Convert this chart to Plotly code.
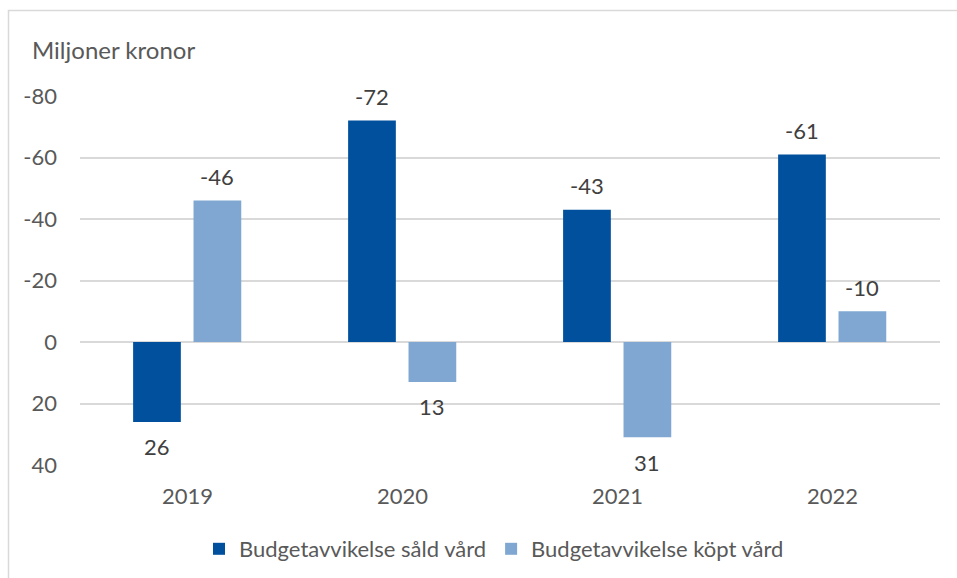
import plotly.graph_objects as go

years = ["2019", "2020", "2021", "2022"]
sald = [26, -72, -43, -61]
kopt = [-46, 13, 31, -10]
y_ticks = [-80, -60, -40, -20, 0, 20, 40]
series_names = ["Budgetavvikelse såld vård", "Budgetavvikelse köpt vård"]

DARK = "#00509E"
LIGHT = "#7FA7D1"
GRID = "#D9D9D9"
TXT = "#595959"
FONT = "Lato"

xs = list(range(len(years)))
W = 0.222
OFF_S = -0.253
OFF_K = 0.028

fig = go.Figure()
fig.add_trace(go.Bar(x=xs, y=sald, name=series_names[0], marker=dict(color=DARK, line=dict(width=0)),
                     width=W, offset=OFF_S))
fig.add_trace(go.Bar(x=xs, y=kopt, name=series_names[1], marker=dict(color=LIGHT, line=dict(width=0)),
                     width=W, offset=OFF_K))

annotations = []
for vals, off in ((sald, OFF_S), (kopt, OFF_K)):
    for i, v in enumerate(vals):
        annotations.append(dict(x=i + off + W / 2, y=v, xref="x", yref="y", text=str(v),
                                showarrow=False, yanchor="middle",
                                yshift=24 if v < 0 else -25,
                                font=dict(family=FONT, size=22, color="#404040")))

L, R, T, B = 80, 17, 96, 113
pw, ph = 957 - L - R, 578 - T - B

def px_x(p):
    return (p - L) / pw

def px_y(p):
    return (578 - B - p) / ph

annotations.append(dict(x=px_x(30), y=px_y(50), xref="paper", yref="paper", text="Miljoner kronor",
                        showarrow=False, xanchor="left", yanchor="middle",
                        font=dict(family=FONT, size=24, color=TXT)))

fig.update_layout(
    width=957, height=578,
    margin=dict(l=L, r=R, t=T, b=B, autoexpand=False),
    paper_bgcolor="white", plot_bgcolor="white",
    barmode="overlay",
    font=dict(family=FONT, color=TXT),
    xaxis=dict(range=[-0.5, 3.5], tickvals=xs, ticktext=years, showgrid=False, zeroline=False,
               showline=False, tickfont=dict(family=FONT, size=22, color=TXT),
               ticks="", ticklabelstandoff=16, fixedrange=True, automargin=False),
    yaxis=dict(range=[40, -80], tickvals=y_ticks, ticktext=[str(v) for v in y_ticks],
               showgrid=True, gridcolor=GRID, gridwidth=2,
               zeroline=False, showline=False, tickfont=dict(family=FONT, size=22, color=TXT),
               ticks="", ticklabelstandoff=22, fixedrange=True, automargin=False),
    legend=dict(orientation="h", x=px_x(494), xanchor="center", y=px_y(549), yanchor="middle",
                font=dict(family=FONT, size=22, color=TXT), itemwidth=30, traceorder="normal",
                bgcolor="rgba(0,0,0,0)"),
    annotations=annotations,
    shapes=[dict(type="rect", xref="paper", yref="paper",
                 x0=px_x(8.5), x1=px_x(1000), y0=px_y(620), y1=px_y(10.5),
                 line=dict(color=GRID, width=1.5), fillcolor="rgba(0,0,0,0)", layer="below")],
    showlegend=True,
)

fig.write_html("out.html", config={"displayModeBar": False},
               post_script="document.body.style.margin='0px';document.body.style.overflow='hidden';")
